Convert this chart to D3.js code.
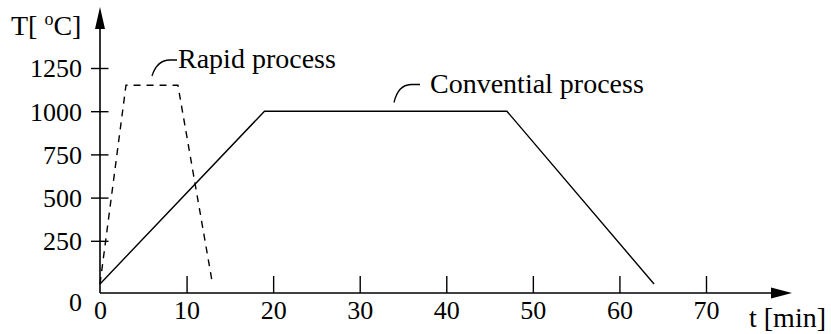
<!DOCTYPE html>
<html>
<head>
<meta charset="utf-8">
<script src="https://cdn.jsdelivr.net/npm/d3@7/dist/d3.min.js"></script>
<style>
  html, body { margin: 0; padding: 0; background: #fff; }
  svg { display: block; }
  text { font-family: "Liberation Serif", "Times New Roman", serif; fill: #000; }
</style>
</head>
<body>
<svg id="chart" width="831" height="334"></svg>
<script>
// Temperature profiles (time in min, temperature in °C)
const conventionalTime = [0, 19, 47, 64];
const conventionalTemp = [0, 1000, 1000, 0];
const rapidTime = [0, 3, 9, 13];
const rapidTemp = [0, 1150, 1150, 0];

const xTickValues = [0, 10, 20, 30, 40, 50, 60, 70];
const yTickValues = [250, 500, 750, 1000, 1250];

const svg = d3.select("#chart");
const x = d3.scaleLinear().domain([0, 70]).range([100, 706]);
const y = d3.scaleLinear().domain([0, 1250]).range([284, 68]);

const axisY = 293;      // horizontal axis sits a little below 0 °C
const axisX = x(0);
const tickFont = 26;
const labelFont = 28;

// Horizontal axis with arrow
const gx = svg.append("g").attr("transform", `translate(0,${axisY})`)
  .call(d3.axisBottom(x).tickValues(xTickValues).tickSize(-17)
    .tickFormat(d3.format("d")));
gx.select(".domain").remove();
gx.selectAll(".tick line").attr("stroke", "#000").attr("stroke-width", 1.4)
  .filter(d => d === 0).remove();
gx.selectAll(".tick text").attr("font-size", tickFont).attr("font-family", "Liberation Serif")
  .attr("y", 26).attr("dy", 0);

svg.append("line").attr("x1", axisX).attr("x2", 775).attr("y1", axisY).attr("y2", axisY)
  .attr("stroke", "#000").attr("stroke-width", 1.6);
svg.append("path").attr("d", `M792,${axisY} L771,${axisY - 5.5} L771,${axisY + 5.5} Z`).attr("fill", "#000");

// Vertical axis with arrow
const gy = svg.append("g").attr("transform", `translate(${axisX},0)`)
  .call(d3.axisLeft(y).tickValues(yTickValues).tickSize(9).tickFormat(d3.format("d")));
gy.select(".domain").remove();
gy.selectAll(".tick line").attr("stroke", "#000").attr("stroke-width", 1.4).attr("x1", 8.5);
gy.selectAll(".tick text").attr("font-size", tickFont).attr("font-family", "Liberation Serif")
  .attr("x", -18).attr("dy", "0.34em");

svg.append("line").attr("x1", axisX).attr("x2", axisX).attr("y1", axisY).attr("y2", 26)
  .attr("stroke", "#000").attr("stroke-width", 1.6);
svg.append("path").attr("d", `M${axisX},7 L${axisX - 5},29 L${axisX + 5},29 Z`).attr("fill", "#000");

// Corner zero of the temperature axis
svg.append("text").attr("x", 82).attr("y", 310.5).attr("text-anchor", "end")
  .attr("font-size", tickFont).text("0");

// Axis titles
const tTitle = svg.append("text").attr("x", 11).attr("y", 35).attr("font-size", labelFont);
tTitle.append("tspan").text("T[ ");
tTitle.append("tspan").attr("font-size", 18).attr("dy", -10).text("o");
tTitle.append("tspan").attr("dy", 10).text("C]");

svg.append("text").attr("x", 749).attr("y", 327).attr("font-size", labelFont).text("t [min]");

// Process curves
const line = d3.line().x(d => x(d[0])).y(d => y(d[1]));
const conv = conventionalTime.map((t, i) => [t, conventionalTemp[i]]);
const rapid = rapidTime.map((t, i) => [t, rapidTemp[i]]);

svg.append("path").attr("d", line(conv)).attr("fill", "none")
  .attr("stroke", "#000").attr("stroke-width", 1.4);
svg.append("path").attr("d", line(rapid)).attr("fill", "none")
  .attr("stroke", "#000").attr("stroke-width", 1.4).attr("stroke-dasharray", "7,6");

// Curve labels with leader hooks
svg.append("path").attr("d", "M152,76 Q157,60 170,60 L177,60")
  .attr("fill", "none").attr("stroke", "#000").attr("stroke-width", 1.3);
svg.append("text").attr("x", 178).attr("y", 68).attr("font-size", labelFont).text("Rapid process");

svg.append("path").attr("d", "M394,102.5 Q398,85 411,84.5 L420,84.5")
  .attr("fill", "none").attr("stroke", "#000").attr("stroke-width", 1.3);
svg.append("text").attr("x", 430).attr("y", 93).attr("font-size", labelFont).text("Convential process");
</script>
</body>
</html>
